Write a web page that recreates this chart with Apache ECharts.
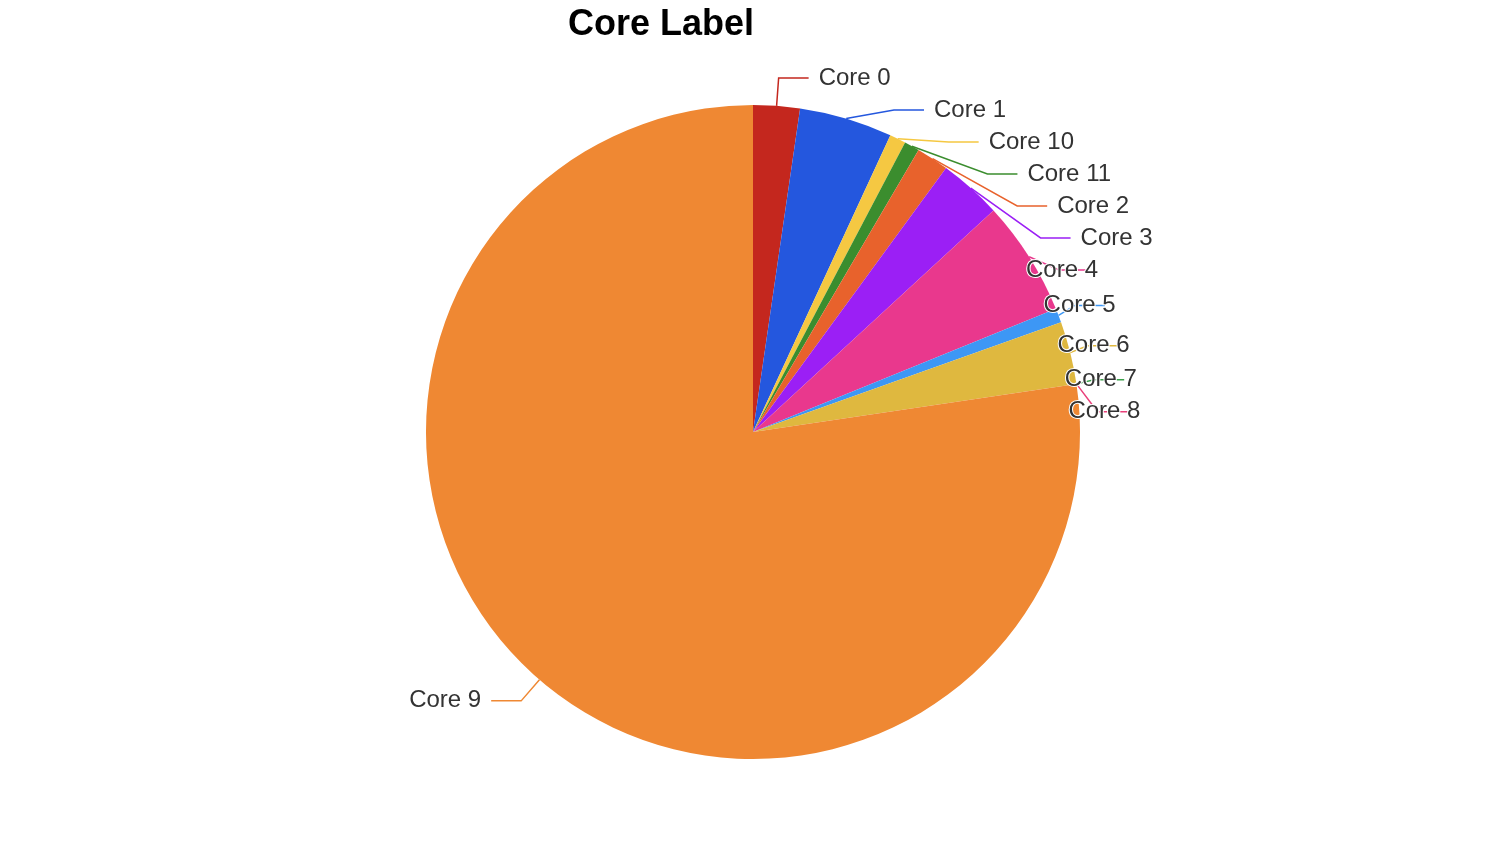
<!DOCTYPE html>
<html lang="en" style="height: 100%">
<head>
  <meta charset="utf-8">
</head>
<body style="height: 100%; margin: 0">
  <div id="container" style="height: 100%"></div>

  <script type="text/javascript" src="https://cdn.jsdelivr.net/npm/echarts@6/dist/echarts.min.js"></script>

  <script type="text/javascript">
    // slice names and values (in percent)
    var coreNames = ['Core 0', 'Core 1', 'Core 10', 'Core 11', 'Core 2', 'Core 3',
                     'Core 4', 'Core 5', 'Core 6', 'Core 7', 'Core 8', 'Core 9'];
    var coreValues = [2.3, 4.6, 0.8, 0.75, 1.6, 3.1, 5.7, 0.7, 3.1, 0, 0, 77.35];
    var coreColors = ['#c4271e', '#2457de', '#f5c842', '#3b8d2e', '#e8622c', '#9b1ff5',
                      '#e9388d', '#3d97f5', '#dfb83f', '#3aa04a', '#e9407a', '#ef8833'];
    // labels that sit on the rim of the pie instead of out at the line end
    var rimLabels = ['Core 4', 'Core 5', 'Core 6', 'Core 7', 'Core 8'];

    var RADIUS = 0.757;

    var dom = document.getElementById('container');
    var myChart = echarts.init(dom, null, {
      renderer: 'canvas',
      useDirtyRect: false
    });

    var pieData = coreNames.map(function (name, i) {
      return { name: name, value: coreValues[i] };
    });

    function rimLayout(params) {
      if (rimLabels.indexOf(coreNames[params.dataIndex]) < 0) {
        return {};
      }
      var w = myChart.getWidth();
      var h = myChart.getHeight();
      var cx = w / 2;
      var cy = h / 2;
      var r = RADIUS * Math.min(w, h) / 2;
      var rect = params.labelRect;
      var y = rect.y + rect.height / 2;
      var dy = y - cy;
      var x = cx + Math.sqrt(Math.max(r * r - dy * dy, 0)) - 11;
      return {
        x: x,
        y: y,
        align: 'left',
        verticalAlign: 'middle',
        labelLinePoints: params.labelLinePoints
      };
    }

    var option = {
      color: coreColors,
      title: {
        text: 'Core Label',
        left: 563,
        top: 2,
        textStyle: {
          fontFamily: 'Liberation Sans',
          fontSize: 36,
          fontWeight: 'bold',
          color: '#000'
        }
      },
      series: [
        {
          name: 'Core Label',
          type: 'pie',
          radius: (RADIUS * 100) + '%',
          center: ['50%', '50%'],
          startAngle: 90,
          clockwise: true,
          avoidLabelOverlap: true,
          minShowLabelAngle: 0,
          data: pieData,
          label: {
            show: true,
            position: 'outside',
            distanceToLabelLine: 10,
            fontFamily: 'Liberation Sans',
            fontSize: 24,
            lineHeight: 30,
            color: '#333',
            textBorderColor: '#fff',
            textBorderWidth: 2
          },
          labelLine: {
            show: true,
            length: 28,
            length2: 30,
            lineStyle: { width: 1.5 }
          },
          labelLayout: rimLayout,
          itemStyle: { borderWidth: 0 },
          emphasis: { scale: false }
        }
      ]
    };

    myChart.setOption(option);
    window.addEventListener('resize', myChart.resize);
  </script>
</body>
</html>
